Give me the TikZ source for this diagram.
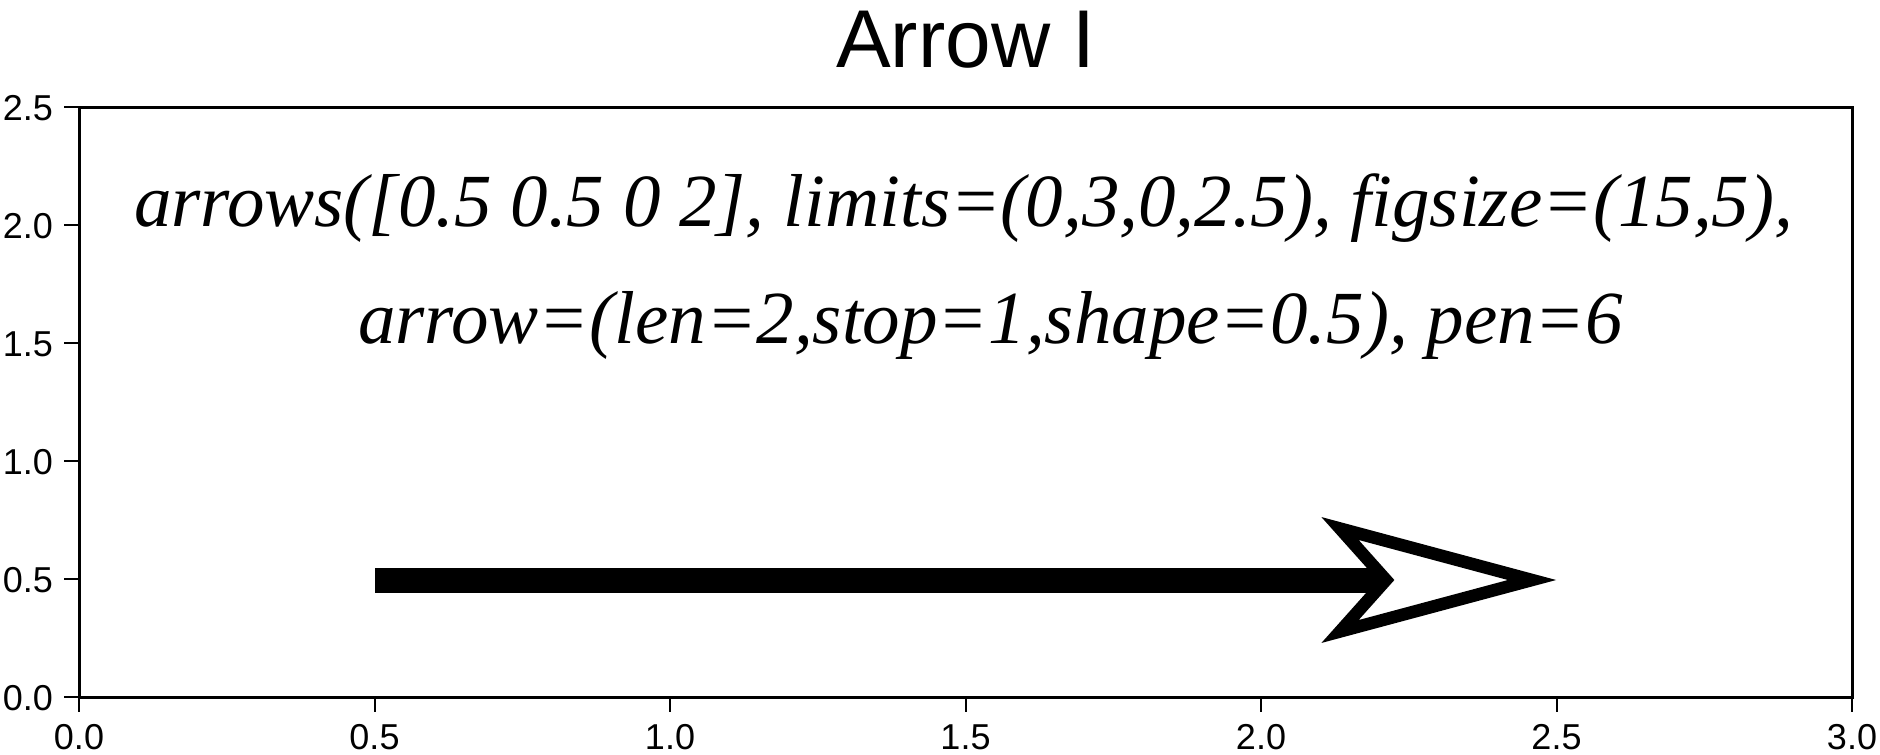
\documentclass[tikz,border=0pt]{standalone}
\usepackage{fontspec}
\setmainfont{Liberation Serif}
\newfontfamily\helv{Liberation Sans}
\tikzset{
  frameline/.style={line width=3pt},
  tickline/.style={line width=2pt},
  ticklab/.style={inner sep=0pt,font=\helv\fontsize{36}{40}\selectfont},
  cmdtext/.style={inner sep=0pt,font=\itshape\fontsize{75}{90}\selectfont},
  shaft/.style={line width=25pt,line cap=butt},
  headline/.style={line width=12.5pt,line join=miter,miter limit=10,fill=white,draw=black}
}
\begin{document}
\begin{tikzpicture}[x=1pt,y=-1pt]
\useasboundingbox (0,0) rectangle (1880,755);
% title
\node[inner sep=0pt,anchor=base,font=\helv\fontsize{82}{90}\selectfont] (title) at (966,67) {Arrow I};
% frame
\coordinate (ll) at (79,697);
\coordinate (ur) at (1852,107);
\draw[frameline] (ll) rectangle (ur);
% y ticks
\foreach \v/\lab [count=\i from 0] in {0/0.0,1/0.5,2/1.0,3/1.5,4/2.0,5/2.5}{
  \coordinate (yt\i) at (79,{697-118*\v});
  \coordinate (yte\i) at (64,{697-118*\v});
  \draw[tickline] (yt\i) -- (yte\i);
  \node[ticklab,anchor=base east] (ylab\i) at (53,{697-118*\v+13}) {\lab};
}
% x ticks
\foreach \v/\lab [count=\i from 0] in {0/0.0,1/0.5,2/1.0,3/1.5,4/2.0,5/2.5,6/3.0}{
  \coordinate (xt\i) at ({79+295.5*\v},697);
  \coordinate (xte\i) at ({79+295.5*\v},712);
  \draw[tickline] (xt\i) -- (xte\i);
  \node[ticklab,anchor=base] (xlab\i) at ({79+295.5*\v},749) {\lab};
}
% text
\node[cmdtext,anchor=base west] (line1) at (134,226) {arrows([0.5 0.5 0 2], limits=(0,3,0,2.5), figsize=(15,5),};
\node[cmdtext,anchor=base west] (line2) at (358,343) {arrow=(len=2,stop=1,shape=0.5), pen=6};
% arrow
\coordinate (start) at (375,580);
\coordinate (shaftend) at (1380,580);
\coordinate (tip) at (1532,580);
\coordinate (ctop) at (1340,528.5);
\coordinate (notch) at (1386,580);
\coordinate (cbot) at (1340,631.5);
\draw[shaft] (start) -- (shaftend);
\draw[headline] (tip) -- (ctop) -- (notch) -- (cbot) -- cycle;
\end{tikzpicture}
\end{document}
